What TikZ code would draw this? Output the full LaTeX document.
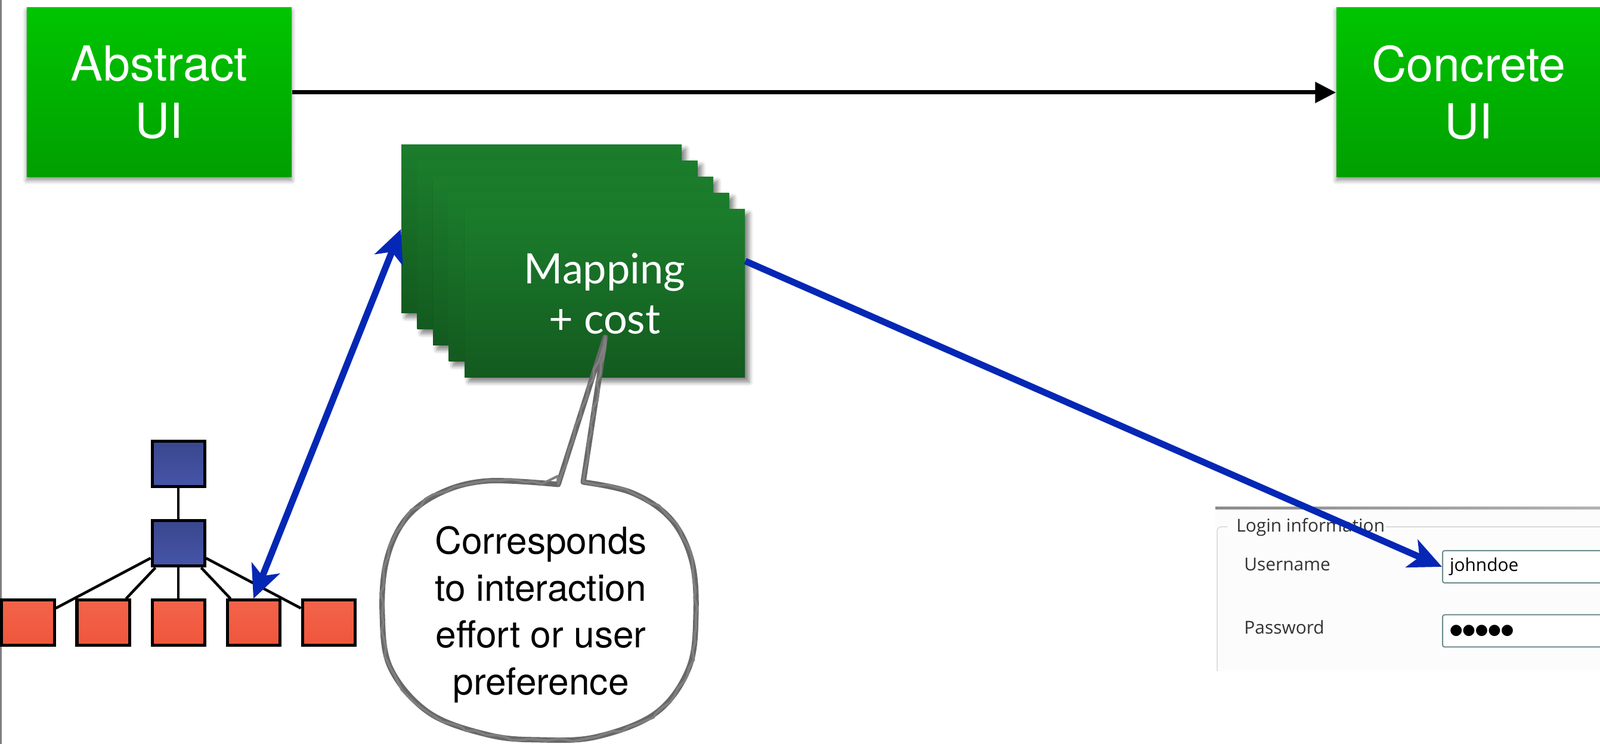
\documentclass[tikz,border=0pt]{standalone}
\usepackage{fontspec}
\setmainfont{TeX Gyre Heros}
\newfontfamily\gillfont{Lato}
\newfontfamily\winfont{Open Sans}
\newfontfamily\dotfont{DejaVu Sans}
\usepackage{tikz}
\usetikzlibrary{arrows.meta}
\usetikzlibrary{shadows.blur}
\usetikzlibrary{decorations.pathmorphing}
\definecolor{uigreentop}{HTML}{00C500}
\definecolor{uigreenbot}{HTML}{009F00}
\definecolor{maptop}{HTML}{1B7D2C}
\definecolor{mapbot}{HTML}{135A1F}
\definecolor{arrowblue}{HTML}{0527B5}
\definecolor{leafred}{HTML}{F0563B}
\definecolor{innertop}{HTML}{3A478E}
\definecolor{innerbot}{HTML}{4654A8}
\definecolor{bubblegray}{HTML}{686868}
\definecolor{boxteal}{HTML}{6E8C8C}

\begin{document}
\begin{tikzpicture}[>=Stealth,
  uibox/.style={rectangle, top color=uigreentop, bottom color=uigreenbot, minimum width=4.44cm, minimum height=2.84cm, text=white, align=center, font=\fontsize{23}{27.3}\selectfont, blur shadow={shadow blur steps=6, shadow xshift=0pt, shadow yshift=-1.5pt, shadow opacity=45}},
  mapcard/.style={rectangle, top color=maptop, bottom color=mapbot, minimum width=4.7cm, minimum height=2.82cm, text=white, align=center, font=\gillfont\fontsize{20}{24}\selectfont, blur shadow={shadow blur steps=6, shadow xshift=2pt, shadow yshift=-2pt, shadow opacity=50}},
  treebox/.style={rectangle, draw=black, line width=0.05cm, minimum width=0.88cm, minimum height=0.76cm, inner sep=0pt},
  leafbox/.style={treebox, top color=leafred!92!white, bottom color=leafred},
  innerbox/.style={treebox, top color=innertop, bottom color=innerbot},
  bluearrow/.style={draw=arrowblue, line width=0.11cm, >={Stealth[length=0.55cm, width=0.5cm, inset=0.14cm]}},
  winlabel/.style={anchor=base west, font=\winfont\fontsize{8.5}{10}\selectfont, text=black!80},
  winfield/.style={draw=boxteal, line width=0.02cm, rounded corners=1pt, fill=white, anchor=west, minimum height=0.54cm, text width=2.8cm, inner xsep=0.12cm, align=left},
  bubble/.style={fill=white, draw=bubblegray, line width=0.09cm, line join=round},
  ]
\useasboundingbox (0,0) rectangle (26.83,12.47);
\draw[gray, line width=0.03cm] (0.015,0)--(0.015,12.47);

\node[innerbox] (root) at (2.99, 4.695) {};
\node[innerbox] (mid) at (2.99, 3.36) {};
\node[leafbox] (leaf1) at (0.47, 2.03) {};
\node[leafbox] (leaf2) at (1.73, 2.03) {};
\node[leafbox] (leaf3) at (2.99, 2.03) {};
\node[leafbox] (leaf4) at (4.25, 2.03) {};
\node[leafbox] (leaf5) at (5.51, 2.03) {};
 \draw[line width=0.045cm] (root)--(mid);
 \draw[line width=0.045cm] (mid)--(leaf1);
 \draw[line width=0.045cm] (mid)--(leaf2);
 \draw[line width=0.045cm] (mid)--(leaf3);
 \draw[line width=0.045cm] (mid)--(leaf4);
 \draw[line width=0.045cm] (mid)--(leaf5);

\node[uibox] (abs) at (2.67, 10.92) {Abstract\\UI};
\node[uibox] (conc) at (24.63, 10.92) {Concrete\\UI};
 \draw[line width=0.07cm, -{Triangle[length=0.35cm, width=0.34cm]}] (abs)--(conc);

\node[mapcard] (map1) at (9.08, 8.63) {};
\node[mapcard] (map2) at (9.345, 8.36) {};
\node[mapcard] (map3) at (9.61, 8.09) {};
\node[mapcard] (map4) at (9.875, 7.82) {};
\node[mapcard] (map5) at (10.14, 7.55) {Mapping\\+ cost};

\fill[black!1] (20.38,1.22) rectangle (26.83,3.95);
\shade[left color=black!45, right color=black!30] (20.38,3.93) rectangle (26.83,3.97);
\draw[black!15, line width=0.015cm, rounded corners=2pt] (20.58,3.64)--(20.41,3.64)--(20.41,1.22);
\draw[black!15, line width=0.015cm] (23.24,3.64)--(26.83,3.64);
\node[winlabel] (login) at (20.61, 3.55) {Login information};
\node[winlabel] (uname) at (20.74, 2.90) {Username};
\node[winlabel] (pword) at (20.74, 1.84) {Password};
\node[winfield, font=\winfont\fontsize{8.5}{10}\selectfont] (user) at (24.18, 2.97) {johndoe};
\node[winfield, font=\dotfont\fontsize{7}{8}\selectfont] (pass) at (24.18, 1.895) {●●●●●};

 \draw[bluearrow, <->] (leaf4.north)--(map1.west);
 \draw[bluearrow, ->] (map5.13)--(user.west);

\draw[bubble, postaction={draw, decorate, decoration={random steps, segment length=4pt, amplitude=0.9pt}, line width=0.04cm, bubblegray!85}]
  (10.15,6.82) -- plot[smooth, tension=0.6] coordinates {(9.36,4.35) (8.18,4.41) (7.39,4.21) (6.80,3.77) (6.48,3.07) (6.41,2.17) (6.55,1.27) (7.20,0.52) (8.20,0.15) (9.05,0.07) (10.00,0.12) (11.00,0.52) (11.55,1.27) (11.67,2.17) (11.60,3.07) (11.25,3.77) (10.60,4.21) (9.78,4.39)} -- cycle;
\node[align=center, font=\fontsize{17.7}{22.3}\selectfont] (note) at (9.07, 2.17) {Corresponds\\to interaction\\effort or user\\preference};
\end{tikzpicture}
\end{document}
